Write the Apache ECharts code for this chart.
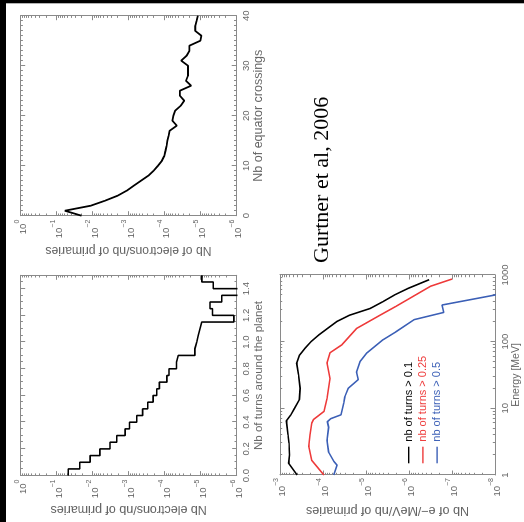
<!DOCTYPE html>
<html><head><meta charset="utf-8">
<script src="https://cdn.jsdelivr.net/npm/echarts@6/dist/echarts.min.js"></script>
<style>
html,body{margin:0;padding:0;background:#fff;overflow:hidden;width:524px;height:522px;}
#wrap{position:absolute;left:0;top:0;width:522px;height:524px;transform-origin:0 0;transform:translate(0px,522px) rotate(-90deg);}
#chart{width:522px;height:524px;}
</style></head><body>
<div id="wrap"><div id="chart"></div></div>
<script>
// ---- data ----
const turnBins = [0,0.05,0.10,0.15,0.20,0.25,0.30,0.35,0.40,0.45,0.50,0.55,0.60,0.65,0.70,0.75,0.80,0.85,0.90,0.95,1.00,1.05,1.10,1.15,1.20,1.25,1.30,1.35,1.40,1.45];
const turnValues = [4.8e-2,2.3e-2,1.18e-2,6.3e-3,3.3e-3,2.14e-3,1.26e-3,9.5e-4,6.0e-4,4.1e-4,2.95e-4,2.1e-4,1.66e-4,1.41e-4,8.7e-5,7.6e-5,4.7e-5,4.2e-5,1.45e-5,1.29e-5,1.17e-5,1.05e-5,9.3e-6,1.2e-6,4.7e-6,5.5e-6,2.6e-6,0,4.5e-6,9.3e-6];
const turnEnd = 1.5;

const crossings = [0,1,2,3,4,5,6,7,8,9,10,11,12,13,14,15,16,17,18,19,20,21,22,23,24,25,26,27,28,29,30,31,32,33,34,35,36,37,38,39,40];
const crossingValues = [2.04e-2,5.9e-2,1.12e-2,4.5e-3,2.0e-3,1.12e-3,7.1e-4,4.5e-4,2.8e-4,2.0e-4,1.5e-4,1.17e-4,1.0e-4,9.3e-5,8.7e-5,8.3e-5,7.6e-5,7.1e-5,4.5e-5,6.0e-5,5.6e-5,5.0e-5,3.5e-5,2.8e-5,3.7e-5,3.7e-5,1.8e-5,2.5e-5,2.2e-5,2.2e-5,2.2e-5,3.4e-5,2.4e-5,2.0e-5,2.0e-5,1.0e-5,9.3e-6,1.4e-5,1.38e-5,1.26e-5,1.17e-5];

const energyBlack = [1,1.5,2,3,4,6.5,8,10,13.5,20,32,48,63,80,100,126,158,200,250,316,400,500,630,850];
const fluxBlack = [3.98e-4,6.3e-4,6.0e-4,6.2e-4,6.5e-4,7.1e-4,5.6e-4,4.6e-4,3.55e-4,3.4e-4,3.7e-4,4.1e-4,3.5e-4,2.6e-4,1.9e-4,1.26e-4,7.9e-5,4.8e-5,2.4e-5,7.9e-6,4.0e-6,2.2e-6,1.05e-6,3.4e-7];
const energyRed = [1,1.65,2.7,4,6,6.8,9,14,28,48,68,89,158,250,340,676,870];
const fluxRed = [9.5e-5,1.82e-4,2.14e-4,2.0e-4,1.82e-4,1.66e-4,9.5e-5,8.1e-5,6.9e-5,8.1e-5,6.9e-5,3.7e-5,1.66e-5,4.7e-6,2.0e-6,3.2e-7,1.0e-7];
const energyBlue = [1,1.4,1.6,2.2,3.3,5.2,6.3,7,8,12,15,20,27,35,50,68,107,141,214,275,355,500,530];
const fluxBlue = [5.6e-5,4.7e-5,5.6e-5,7.4e-5,8.1e-5,7.4e-5,7.9e-5,6.6e-5,3.8e-5,3.3e-5,3.1e-5,2.6e-5,1.51e-5,1.66e-5,1.38e-5,9.5e-6,4.0e-6,2.0e-6,7.6e-7,1.55e-7,1.7e-7,1.02e-8,8e-9];

const legendNames = ['nb of turns > 0.1','nb of turns > 0.25','nb of turns > 0.5'];
const lineColors = ['#000000','#ee3a3a','#3b5fb6'];

const turnTicks = [0,0.2,0.4,0.6,0.8,1.0,1.2,1.4];
const crossTicks = [0,10,20,30,40];
const energyTicks = [1,10,100,1000];
const probTicks = [1,1e-1,1e-2,1e-3,1e-4,1e-5,1e-6];
const fluxTicks = [1e-3,1e-4,1e-5,1e-6,1e-7,1e-8];

// ---- helpers ----
const FRAME = '#8a8a8a';
const TXT = '#666666';
const FONT = 'Liberation Sans';
function logMinors(lo, hi){ const r=[]; for(let e=lo;e<hi;e++){ for(let k=2;k<=9;k++){ r.push(Number((k*Math.pow(10,e)).toPrecision(6))); } } return r; }
function linMinors(min,max,step,majors){ const r=[]; const n=Math.round((max-min)/step); for(let i=0;i<=n;i++){ const v=Number((min+i*step).toFixed(6)); if(!majors.some(m=>Math.abs(m-v)<1e-9)) r.push(v);} return r; }
function supFmt(v){ const e=Math.round(Math.log10(v)); const s=e<0?'\u2212'+(-e):String(e); return '{b|10}{s|'+s+'}'; }
const supRich = {
  b:{fontSize:9.5,color:TXT,fontFamily:FONT,lineHeight:15,verticalAlign:'bottom'},
  s:{fontSize:7,color:TXT,fontFamily:FONT,lineHeight:15,verticalAlign:'top'}
};
function axesFor(grid, dim, cfg){
  const pos = dim==='x' ? ['bottom','top'] : ['left','right'];
  const out = [];
  pos.forEach((p,pi)=>{
    const major = {
      type:cfg.type, gridIndex:grid, position:p, min:cfg.min, max:cfg.max,
      axisLine:{show:true,onZero:false,lineStyle:{color:FRAME,width:1}},
      axisTick:{show:true,inside:true,length:4.5,customValues:cfg.majors,lineStyle:{color:FRAME,width:1}},
      axisLabel:{show:false},
      splitLine:{show:false}, minorTick:{show:false}, minorSplitLine:{show:false}
    };
    if(pi===0){
      major.axisLabel = Object.assign({show:true,customValues:cfg.majors,margin:cfg.margin,color:TXT,fontSize:9.5,fontFamily:FONT,showMaxLabel:true,showMinLabel:true}, cfg.label||{});
      if(cfg.name){
        major.name = cfg.name; major.nameLocation='middle'; major.nameGap=cfg.nameGap;
        major.nameTextStyle = {color:TXT,fontSize:cfg.nameSize||10,fontFamily:FONT};
      }
    }
    out.push(major);
    out.push({
      type:cfg.type, gridIndex:grid, position:p, min:cfg.min, max:cfg.max,
      axisLine:{show:false,onZero:false},
      axisTick:{show:true,inside:true,length:2.2,customValues:cfg.minors,lineStyle:{color:FRAME,width:1}},
      axisLabel:{show:false}, splitLine:{show:false}
    });
  });
  return out;
}

// ---- grids ----
const grids = [
  {left:46.4, top:20.7, width:200.3, height:216},   // turns histogram
  {left:306.3, top:20.7, width:200, height:215.5},  // equator crossings
  {left:47, top:280, width:200, height:215}         // energy spectra
];

const xAxes = [].concat(
  axesFor(0,'x',{type:'value',min:0,max:turnEnd,majors:turnTicks,minors:linMinors(0,1.5,0.05,turnTicks),margin:5,
    label:{formatter:v=>v.toFixed(1)},name:'Nb of turns around the planet',nameGap:14.5,nameSize:11.5}),
  axesFor(1,'x',{type:'value',min:0,max:40,majors:crossTicks,minors:linMinors(0,40,1,crossTicks),margin:5,
    label:{formatter:v=>String(v)},name:'Nb of equator crossings',nameGap:13,nameSize:12.5}),
  axesFor(2,'x',{type:'log',min:1,max:1000,majors:energyTicks,minors:logMinors(0,3),margin:5,
    label:{formatter:v=>String(Math.round(v))},name:'Energy [MeV]',nameGap:16,nameSize:10.5})
);
const yAxes = [].concat(
  axesFor(0,'y',{type:'log',min:1e-6,max:1,majors:probTicks,minors:logMinors(-6,0),margin:4,
    label:{formatter:supFmt,rich:supRich},name:'Nb electrons/nb of primaries',nameGap:27,nameSize:12.5}),
  axesFor(1,'y',{type:'log',min:1e-6,max:1,majors:probTicks,minors:logMinors(-6,0),margin:4,
    label:{formatter:supFmt,rich:supRich},name:'Nb of electrons/nb of primaries',nameGap:28.5,nameSize:12.2}),
  axesFor(2,'y',{type:'log',min:1e-8,max:1e-3,majors:fluxTicks,minors:logMinors(-8,-3),margin:3,
    label:{formatter:supFmt,rich:supRich},name:'Nb of e\u2212/MeV/nb of primaries',nameGap:28.8,nameSize:12.5})
);

const FLOOR = 1e-12; // empty bins fall below the axis and are clipped
const histData = turnBins.map((t,i)=>[t, turnValues[i]>0?turnValues[i]:FLOOR]);
histData.push([turnEnd, turnValues[turnValues.length-1]]);

function pairs(xs,ys){ return xs.map((x,i)=>[x,ys[i]]); }

const series = [
  {type:'line',step:'end',xAxisIndex:0,yAxisIndex:0,data:histData,symbol:'none',clip:true,
   lineStyle:{color:'#000',width:1.6},silent:true},
  {type:'line',xAxisIndex:4,yAxisIndex:4,data:pairs(crossings,crossingValues),symbol:'none',clip:true,
   lineStyle:{color:'#000',width:1.8},silent:true},
  {name:legendNames[0],type:'line',xAxisIndex:8,yAxisIndex:8,data:pairs(energyBlack,fluxBlack),symbol:'none',clip:true,
   lineStyle:{color:lineColors[0],width:1.6},itemStyle:{color:lineColors[0]},silent:true},
  {name:legendNames[1],type:'line',xAxisIndex:8,yAxisIndex:8,data:pairs(energyRed,fluxRed),symbol:'none',clip:true,
   lineStyle:{color:lineColors[1],width:1.6},itemStyle:{color:lineColors[1]},silent:true},
  {name:legendNames[2],type:'line',xAxisIndex:8,yAxisIndex:8,data:pairs(energyBlue,fluxBlue),symbol:'none',clip:true,
   lineStyle:{color:lineColors[2],width:1.6},itemStyle:{color:lineColors[2]},silent:true}
];

const chart = echarts.init(document.getElementById('chart'), null, {renderer:'canvas'});
chart.setOption({
  animation:false,
  backgroundColor:'#ffffff',
  grid:grids,
  xAxis:xAxes,
  yAxis:yAxes,
  legend:{
    orient:'vertical', left:58.7, top:402.7, padding:0, icon:'rect', itemWidth:16.6, itemHeight:1.4, itemGap:2.2,
    data:legendNames.map((n,i)=>({name:n,textStyle:{color:lineColors[i]},itemStyle:{color:lineColors[i]}})),
    textStyle:{fontSize:11,fontFamily:FONT,lineHeight:12}, selectedMode:false
  },
  graphic:[
    {type:'rect',shape:{x:0,y:0,width:522,height:6},style:{fill:'#000'},silent:true},
    {type:'rect',shape:{x:518.7,y:0,width:3.3,height:524},style:{fill:'#000'},silent:true},
    {type:'text',x:259,y:322.6,style:{text:'Gurtner et al, 2006',font:'22px "Liberation Serif"',fill:'#000',verticalAlign:'middle'},silent:true}
  ],
  series:series
});
</script></body></html>
